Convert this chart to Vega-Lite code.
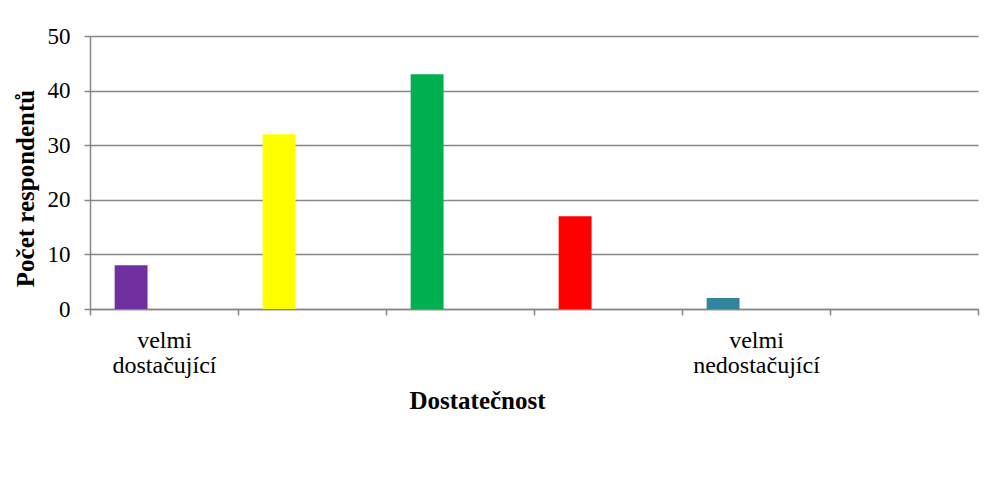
{
  "$schema": "https://vega.github.io/schema/vega-lite/v6.json",
  "autosize": {"type": "none"},
  "padding": {"left": 90, "top": 36, "right": 8, "bottom": 181},
  "width": 888,
  "height": 273,
  "background": "white",
  "config": {
    "view": {"stroke": null},
    "font": "Liberation Serif"
  },
  "data": {
    "values": [
      {"cat": "velmi dostačující", "series": "s1", "count": 8},
      {"cat": "2", "series": "s1", "count": 32},
      {"cat": "3", "series": "s1", "count": 43},
      {"cat": "4", "series": "s1", "count": 17},
      {"cat": "velmi nedostačující", "series": "s1", "count": 2}
    ]
  },
  "mark": {"type": "bar"},
  "encoding": {
    "x": {
      "field": "cat",
      "type": "nominal",
      "scale": {
        "domain": ["velmi dostačující", "2", "3", "4", "velmi nedostačující", "6"],
        "paddingInner": 0,
        "paddingOuter": 0
      },
      "axis": {
        "title": "Dostatečnost",
        "titleFont": "Liberation Serif",
        "titleFontSize": 25,
        "titleFontWeight": "bold",
        "titleColor": "black",
        "titlePadding": 11,
        "titleX": 387,
        "labelAngle": 0,
        "labelFont": "Liberation Serif",
        "labelFontSize": 24,
        "labelColor": "black",
        "labelLineHeight": 25,
        "labelPadding": 13,
        "labelExpr": "indexof(['velmi dostačující','velmi nedostačující'], datum.value) >= 0 ? split(datum.value, ' ') : ''",
        "tickBand": "extent",
        "tickSize": 6,
        "tickColor": "#868686",
        "tickWidth": 1.5,
        "domainColor": "#868686",
        "domainWidth": 1.5,
        "grid": false
      }
    },
    "xOffset": {
      "field": "series",
      "type": "nominal",
      "scale": {"domain": ["s1", "s2", "s3"], "paddingInner": 0, "paddingOuter": 0.75}
    },
    "y": {
      "field": "count",
      "type": "quantitative",
      "scale": {"domain": [0, 50]},
      "axis": {
        "title": "Počet respondentů",
        "titleFont": "Liberation Serif",
        "titleFontSize": 25,
        "titleFontWeight": "bold",
        "titleColor": "black",
        "titlePadding": 9,
        "titleY": 152,
        "values": [0, 10, 20, 30, 40, 50],
        "labelFont": "Liberation Serif",
        "labelFontSize": 23,
        "labelColor": "black",
        "labelPadding": 14,
        "tickSize": 6,
        "tickColor": "#868686",
        "tickWidth": 1.5,
        "domainColor": "#868686",
        "domainWidth": 1.5,
        "grid": true,
        "gridColor": "#868686",
        "gridWidth": 1.5
      }
    },
    "color": {
      "field": "cat",
      "type": "nominal",
      "scale": {
        "domain": ["velmi dostačující", "2", "3", "4", "velmi nedostačující"],
        "range": ["#7030A0", "#FFFF00", "#00B050", "#FF0000", "#31849B"]
      },
      "legend": null
    }
  }
}
